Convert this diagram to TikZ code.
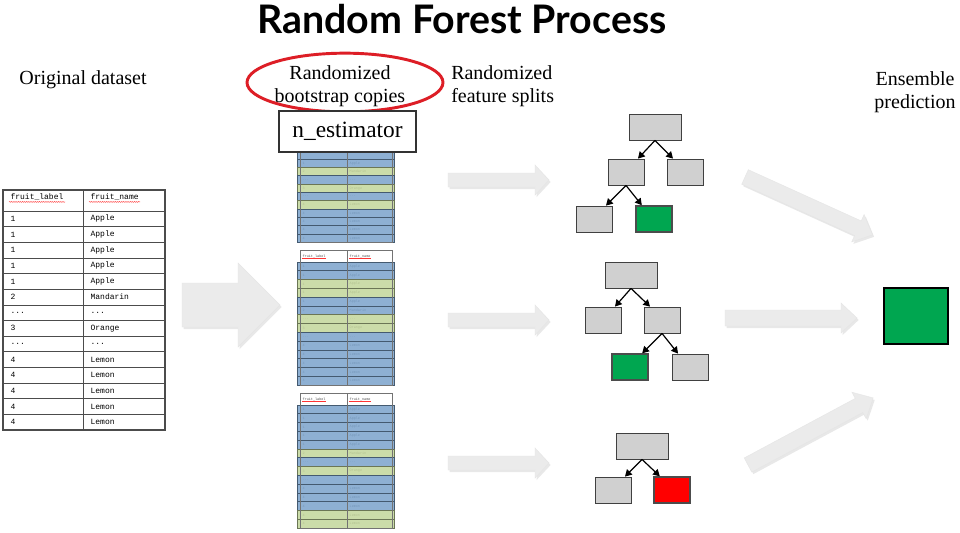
\documentclass[tikz,border=0pt]{standalone}
\usepackage{fontspec}
\setmainfont{Liberation Serif}
\newfontfamily\titlefont{Lato}
\newfontfamily\monofont{Liberation Mono}
\usepackage{tikz}
\usetikzlibrary{arrows.meta,calc,shapes.geometric,shadows,decorations.pathmorphing}
\definecolor{leafgreen}{HTML}{00A650}
\definecolor{leafred}{HTML}{FF0000}
\definecolor{boxgrey}{HTML}{D0D0D0}
\definecolor{bootb}{HTML}{7BA3CC}
\definecolor{bootg}{HTML}{C3D69B}
\definecolor{ringred}{HTML}{DD1E26}
\definecolor{arrowgrey}{HTML}{EBEBEB}

\tikzset{
  headtext/.style={font=\fontsize{15}{17.25}\selectfont, inner sep=0pt},
  treebox/.style={draw=black!75, fill=boxgrey, line width=0.6pt,
                  minimum width=27pt, minimum height=19.5pt, inner sep=0pt},
  rootbox/.style={treebox, minimum width=39pt},
  leafbox/.style={treebox, draw=black!70, line width=1.1pt},
  splitarrow/.style={-{Triangle[length=5pt,width=5.5pt]}, line width=0.9pt},
  fatarrow/.style={fill=arrowgrey, draw=black!10, line width=0.3pt,
                   drop shadow={opacity=0.18, shadow xshift=1.2pt, shadow yshift=-1.5pt}},
  tablegrid/.style={draw=black!70, line width=0.5pt},
  bootgrid/.style={draw=black!55, line width=0.3pt},
  cell/.style={font=\monofont\fontsize{6}{7}\selectfont, inner sep=1pt, anchor=west},
  tinycell/.style={font=\monofont\fontsize{2.6}{3}\selectfont, inner sep=0.3pt, anchor=west, text=black!70},
  spell/.style={draw=red!80, line width=0.3pt, decorate,
                decoration={snake, amplitude=0.35pt, segment length=1.6pt}},
}

\newcommand\rowdots{...}
% fleche pleine : depart, angle, longueur, demi-corps, demi-tete, longueur de tete
\newcommand\fatarrow[6]{%
  \filldraw[fatarrow, shift={#1}, rotate=#2]
    (0,-#4) -- ({#3-#6},-#4) -- ({#3-#6},-#5) -- (#3,0)
    -- ({#3-#6},#5) -- ({#3-#6},#4) -- (0,#4) -- cycle;}
% copie bootstrap : haut, hauteur de ligne, couleurs, prefixe, premiere ligne visible
\newcommand\bootcopy[5]{%
  \ifnum#5=1
    \node[tinycell] (#4hl) at (302,{#1+6}) {fruit\_label};
    \node[tinycell] (#4hn) at (349,{#1+6}) {fruit\_name};
    \draw[red!80, line width=0.2pt] (#4hl.south west) -- (#4hl.south east);
    \draw[red!80, line width=0.2pt] (#4hn.south west) -- (#4hn.south east);
  \fi
  \foreach \lab/\nam [count=\idx] in {1/Apple,1/Apple,1/Apple,1/Apple,1/Apple,
      2/Mandarin,\rowdots/\rowdots,3/Orange,\rowdots/\rowdots,
      4/Lemon,4/Lemon,4/Lemon,4/Lemon,4/Lemon}{
    \ifnum\idx<#5\relax\else
      \node[tinycell] (#4l\idx) at (302,{#1+12+(\idx-0.5)*#2}) {\lab};
      \node[tinycell] (#4n\idx) at (349,{#1+12+(\idx-0.5)*#2}) {\nam};
    \fi
  }
  \foreach \rowc [count=\idx] in {#3}
    \filldraw[fill=boot\rowc, draw=boot\rowc!55!black, fill opacity=0.85, line width=0.5pt]
      (297,{#1+12+(\idx-1)*#2}) rectangle (394,{#1+12+\idx*#2});
  \draw[bootgrid] (300,#1) rectangle (392,{#1+12+14*#2});
  \draw[bootgrid] (347,#1) -- (347,{#1+12+14*#2});
}

\begin{document}
\begin{tikzpicture}[x=0.75pt,y=-0.75pt]
  \fill[white] (0,0) rectangle (960,532);
  \useasboundingbox (0,0) rectangle (960,532);

  % titres
  \node[font=\titlefont\bfseries\fontsize{29.5}{32}\selectfont] (title) at (462,19) {Random Forest Process};
  \node[headtext] (origlab) at (83,80) {Original dataset};
  \node[headtext, align=center] (bootlab) at (340,86) {Randomized\\bootstrap copies};
  \node[draw=ringred, line width=2.2pt, ellipse, minimum width=147pt, minimum height=44pt] (ring) at (345,82.5) {};
  \node[headtext, align=left, anchor=west] (featlab) at (451,86) {Randomized\\feature splits};
  \node[headtext, align=center] (enslab) at (915,92) {Ensemble\\prediction};

  % jeu de donnees d'origine
  \node[cell] (hlab) at (9,197) {fruit\_label};
  \node[cell] (hnam) at (89,197) {fruit\_name};
  \draw[spell] (hlab.south west) -- (hlab.south east);
  \draw[spell] (hnam.south west) -- (hnam.south east);
  \foreach \lab/\nam [count=\idx] in {1/Apple,1/Apple,1/Apple,1/Apple,1/Apple,
      2/Mandarin,\rowdots/\rowdots,3/Orange,\rowdots/\rowdots,
      4/Lemon,4/Lemon,4/Lemon,4/Lemon,4/Lemon}{
    \node[cell] (lab\idx) at (9,{211+(\idx-0.5)*15.64}) {\lab};
    \node[cell] (nam\idx) at (89,{211+(\idx-0.5)*15.64}) {\nam};
  }
  \draw[tablegrid, line width=0.8pt] (3,190) rectangle (165,430);
  \draw[tablegrid] (83,190) -- (83,430);
  \foreach \idx in {0,...,13}
    \draw[tablegrid] (3,{211+\idx*15.64}) -- (165,{211+\idx*15.64});

  \fatarrow{(182,305)}{0}{98}{22}{42}{42}

  % copies bootstrap
  \bootcopy{114}{8.3}{b,b,b,b,b,g,b,g,b,g,b,b,b,b}{ca}{5}
  \bootcopy{250}{8.8}{b,b,g,g,b,b,g,g,b,b,b,b,b,b}{cb}{1}
  \bootcopy{393}{8.8}{b,b,b,b,b,g,b,g,b,b,b,b,g,g}{cc}{1}
  \node[draw=black!80, fill=white, line width=0.8pt, minimum width=102.75pt,
        minimum height=30.75pt, font=\fontsize{17.5}{20}\selectfont] (nest) at (347.5,131.5) {n\_estimator};

  \fatarrow{(448,180)}{0}{101}{7}{15}{14}
  \fatarrow{(448,320)}{0}{101}{7}{15}{14}
  \fatarrow{(448,463)}{0}{101}{7}{15}{14}

  % arbre 1
  \node[rootbox] (aroot) at (655,127) {};
  \node[treebox] (al) at (626,172) {};
  \node[treebox] (ar) at (685,172) {};
  \node[treebox] (all) at (594,219) {};
  \node[leafbox, fill=leafgreen] (alr) at (654,219) {};
  \draw[splitarrow] (aroot.south) -- ($(al.north)!0.65!(al.north east)$);
  \draw[splitarrow] (aroot.south) -- ($(ar.north)!0.65!(ar.north west)$);
  \draw[splitarrow] (al.south) -- ($(all.north)!0.65!(all.north east)$);
  \draw[splitarrow] (al.south) -- ($(alr.north)!0.65!(alr.north west)$);

  % arbre 2
  \node[rootbox] (broot) at (631,275) {};
  \node[treebox] (bl) at (603,320) {};
  \node[treebox] (br) at (662,320) {};
  \node[leafbox, fill=leafgreen] (brl) at (630,367) {};
  \node[treebox] (brr) at (690,367) {};
  \draw[splitarrow] (broot.south) -- ($(bl.north)!0.65!(bl.north east)$);
  \draw[splitarrow] (broot.south) -- ($(br.north)!0.65!(br.north west)$);
  \draw[splitarrow] (br.south) -- ($(brl.north)!0.65!(brl.north east)$);
  \draw[splitarrow] (br.south) -- ($(brr.north)!0.65!(brr.north west)$);

  % arbre 3
  \node[rootbox] (croot) at (642,446) {};
  \node[treebox] (cl) at (613,490) {};
  \node[leafbox, fill=leafred] (cr) at (672,490) {};
  \draw[splitarrow] (croot.south) -- ($(cl.north)!0.65!(cl.north east)$);
  \draw[splitarrow] (croot.south) -- ($(cr.north)!0.65!(cr.north west)$);

  % vote final
  \fatarrow{(745,177)}{-24.4}{140}{8}{15}{16}
  \fatarrow{(725,318)}{0}{132}{8}{15}{16}
  \fatarrow{(748,465)}{28.2}{142}{8}{15}{16}
  \node[draw=black, line width=0.8pt, fill=leafgreen, minimum width=48pt, minimum height=42pt,
        drop shadow={opacity=0.2, shadow xshift=1pt, shadow yshift=-1pt}] (vote) at (916,316) {};
\end{tikzpicture}
\end{document}
